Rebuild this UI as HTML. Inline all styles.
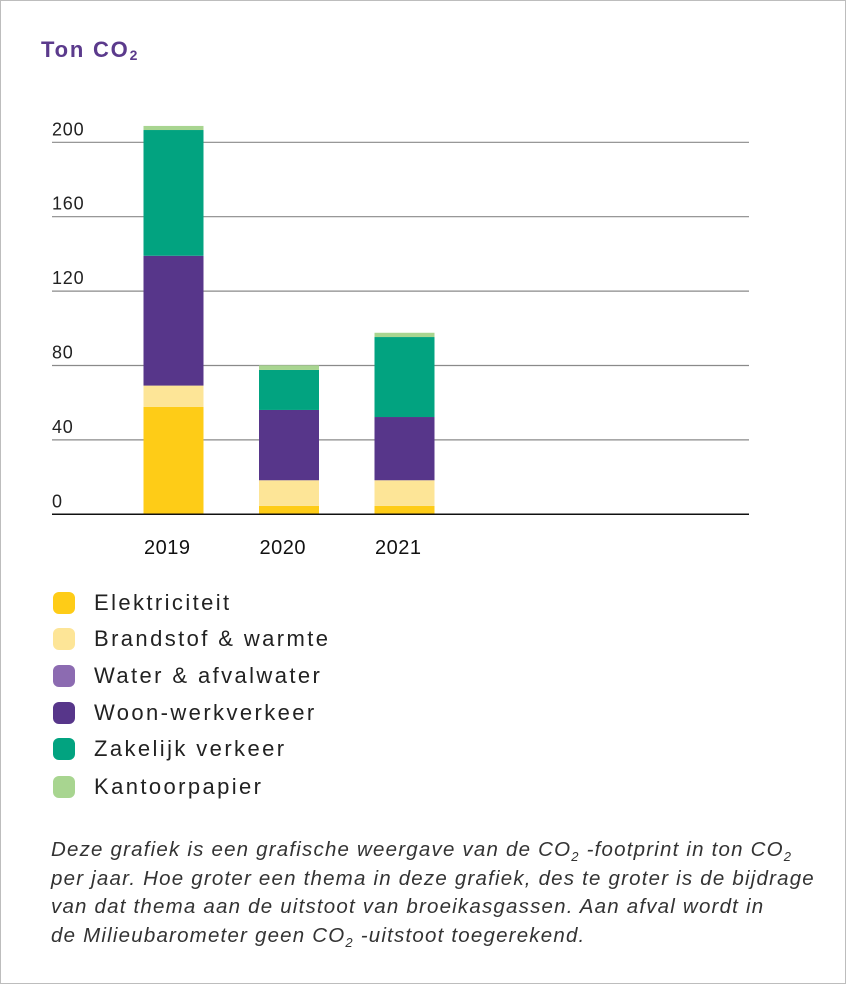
<!DOCTYPE html>
<html><head><meta charset="utf-8"><style>
html,body{margin:0;padding:0;background:#fff;}
#wrap{position:relative;width:844px;height:982px;border:1px solid #bdbdbd;font-family:"Liberation Sans",sans-serif;overflow:hidden;}
.title{position:absolute;left:40px;top:36px;font-size:22px;font-weight:bold;color:#5b3a8c;letter-spacing:1.8px;}
.title sub{font-size:14px;vertical-align:-3px;line-height:0;}
svg{position:absolute;left:0;top:0;}
.leg{position:absolute;left:52px;height:24px;display:flex;align-items:center;font-size:22px;color:#222;letter-spacing:2.4px;white-space:nowrap;}
.leg span.m{width:22px;height:22px;border-radius:6px;margin-right:19px;display:inline-block;}
.cap{position:absolute;left:50px;top:835px;width:790px;font-size:20.5px;font-style:italic;color:#333;line-height:28.5px;letter-spacing:1.2px;white-space:nowrap;}
.cap sub{font-size:13px;line-height:0;}
</style></head><body>
<div id="wrap">
<div class="title">Ton CO<sub>2</sub></div>
<svg id="chart" width="846" height="984"></svg>
<div class="leg" style="top:590px"><span class="m" style="background:#fecc17"></span>Elektriciteit</div>
<div class="leg" style="top:626px"><span class="m" style="background:#fde597"></span>Brandstof &amp; warmte</div>
<div class="leg" style="top:663px"><span class="m" style="background:#8c6bb1"></span>Water &amp; afvalwater</div>
<div class="leg" style="top:700px"><span class="m" style="background:#57368a"></span>Woon-werkverkeer</div>
<div class="leg" style="top:736px"><span class="m" style="background:#02a380"></span>Zakelijk verkeer</div>
<div class="leg" style="top:774px"><span class="m" style="background:#a8d590"></span>Kantoorpapier</div>
<div class="cap">Deze grafiek is een grafische weergave van de CO<sub>2</sub> -footprint in ton CO<sub>2</sub><br>per jaar. Hoe groter een thema in deze grafiek, des te groter is de bijdrage<br>van dat thema aan de uitstoot van broeikasgassen. Aan afval wordt in<br>de Milieubarometer geen CO<sub>2</sub> -uitstoot toegerekend.</div>
</div>
<script>
const years = ["2019","2020","2021"];
const elektriciteit = [57.7, 4.5, 4.5];
const brandstof = [11.5, 13.8, 13.8];
const water = [0, 0, 0];
const woonwerk = [69.8, 37.8, 34.0];
const zakelijk = [67.6, 21.5, 43.0];
const papier = [2.2, 2.5, 2.3];
const ticks = [0, 40, 80, 120, 160, 200];

const svg = document.getElementById('chart');
const NS = 'http://www.w3.org/2000/svg';
const y0 = 513.3, pxPer = 1.86;
function yScale(v){ return y0 - v*pxPer; }
function xScale(i){ return 142.5 + i*115.5; }
const bw = 60;
function mk(tag, attrs){ const e=document.createElementNS(NS,tag); for(const k in attrs) e.setAttribute(k,attrs[k]); svg.appendChild(e); return e; }

ticks.forEach(t=>{
  const y=yScale(t);
  const l=mk('line',{x1:51,x2:748,y1:y,y2:y,stroke:t===0?'#111':'#8a8a8a','stroke-width':t===0?1.5:1.2});
  
  
  const tx=mk('text',{x:51,y:y-7,'font-size':'18','font-family':'Liberation Sans, sans-serif',fill:'#222','letter-spacing':'0.8'});
  tx.textContent=t;
  
  
});
const series=[[elektriciteit,'#fecc17','elektriciteit'],[brandstof,'#fde597','brandstof'],[water,'#8c6bb1','water'],[woonwerk,'#57368a','woon-werk'],[zakelijk,'#02a380','zakelijk'],[papier,'#a8d590','kantoorpapier']];
years.forEach((yr,i)=>{
  let acc=0;
  series.forEach(([arr,col,nm])=>{
    const v=arr[i]; if(v<=0) return;
    const r=mk('rect',{x:xScale(i),y:yScale(acc+v),width:bw,height:v*pxPer,fill:col});
    
    
    acc+=v;
  });
  const t=mk('text',{x:xScale(i)+0.5,y:553,'font-size':'20','font-family':'Liberation Sans, sans-serif',fill:'#111','letter-spacing':'0.5'});
  t.textContent=yr;
  
  
});
svg.appendChild(svg.querySelector('line'));
</script>
</body></html>
